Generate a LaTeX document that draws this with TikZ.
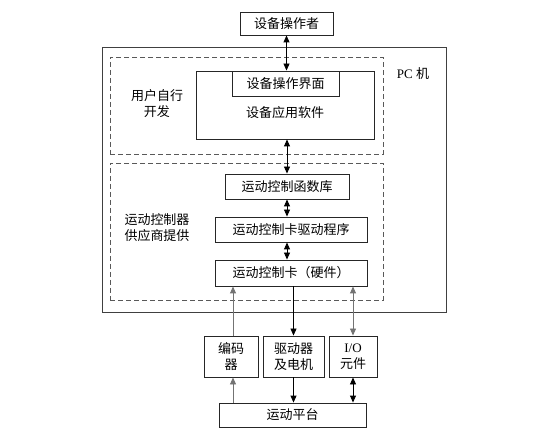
\documentclass[tikz,border=0pt]{standalone}
\usepackage{fontspec}
\setmainfont{Liberation Serif}
\newfontfamily\cjk{Noto Sans CJK SC}
\usepackage{xcolor}
\usetikzlibrary{arrows.meta, positioning, calc}

\tikzset{
    blockbox/.style={draw=black!85, line width=0.9pt, rectangle, inner sep=0pt,
        font=\cjk\fontsize{13}{16}\selectfont, align=center},
    dashbox/.style={draw=black!65, line width=0.9pt, dash pattern=on 5pt off 3pt,
        rectangle, inner sep=0pt},
    plain/.style={font=\cjk\fontsize{13}{16}\selectfont, align=center, inner sep=0pt},
    link/.style={line width=0.9pt, -{Triangle[length=7pt,width=6pt]}},
    twolink/.style={line width=0.9pt, {Triangle[length=7pt,width=6pt]}-{Triangle[length=7pt,width=6pt]}},
}

\begin{document}
\begin{tikzpicture}[x=1pt, y=-1pt]
    \useasboundingbox (0,0) rectangle (539,441);

    % PC frame and the two dashed regions
    \node[draw=black!75, line width=0.9pt, minimum width=344pt, minimum height=265pt, inner sep=0pt] (pc) at (274,179.5) {};
    \node[dashbox, minimum width=273pt, minimum height=97pt] (user) at (246.5,105.5) {};
    \node[dashbox, minimum width=273pt, minimum height=137pt] (vendor) at (246.5,231.5) {};
    \node[font=\fontsize{13}{16}\selectfont, inner sep=0pt] (pclabel) at (413,74) {PC {\cjk 机}};
    \node[plain] (usertxt) at (157,104) {用户自行\\开发};
    \node[plain] (vendortxt) at (157,228) {运动控制器\\供应商提供};

    % blocks
    \node[blockbox, minimum width=93pt, minimum height=23pt] (oper) at (286.5,23.5) {设备操作者};
    \node[blockbox, minimum width=178pt, minimum height=68pt] (soft) at (285,105) {};
    \node[plain] (softtxt) at (285,113) {设备应用软件};
    \node[blockbox, minimum width=107pt, minimum height=25pt] (ui) at (285.5,83.5) {设备操作界面};
    \node[blockbox, minimum width=124pt, minimum height=25pt] (lib) at (287,186.5) {运动控制函数库};
    \node[blockbox, minimum width=152pt, minimum height=25pt] (drv) at (291,229.5) {运动控制卡驱动程序};
    \node[blockbox, minimum width=152pt, minimum height=26pt] (card) at (291,273) {运动控制卡（硬件）};
    \node[blockbox, minimum width=54pt, minimum height=41pt] (enc) at (231,356.5) {编码\\器};
    \node[blockbox, minimum width=61pt, minimum height=41pt] (motor) at (293.5,356.5) {驱动器\\及电机};
    \node[blockbox, minimum width=48pt, minimum height=41pt] (io) at (353,356.5) {{\rmfamily I/O}\\元件};
    \node[blockbox, minimum width=147pt, minimum height=24pt] (plat) at (292.5,415) {运动平台};

    % connectors
    \draw[twolink] (oper.south) -- (oper.south |- ui.north);
    \draw[twolink] (lib.north) -- (lib.north |- soft.south);
    \draw[twolink] (lib.south) -- (lib.south |- drv.north);
    \draw[twolink] ([xshift=-4pt]drv.south) -- ([xshift=-4pt]card.north);
    \draw[link, black!55] ([xshift=2pt]enc.north) -- ([xshift=2pt]enc.north |- card.south);
    \draw[link] (motor.north |- card.south) -- (motor.north);
    \draw[twolink, black!55] (io.north) -- (io.north |- card.south);
    \draw[link, black!55] ([xshift=2pt]enc.south |- plat.north) -- ([xshift=2pt]enc.south);
    \draw[link] (motor.south) -- (motor.south |- plat.north);
    \draw[twolink] (io.south) -- (io.south |- plat.north);
\end{tikzpicture}
\end{document}
